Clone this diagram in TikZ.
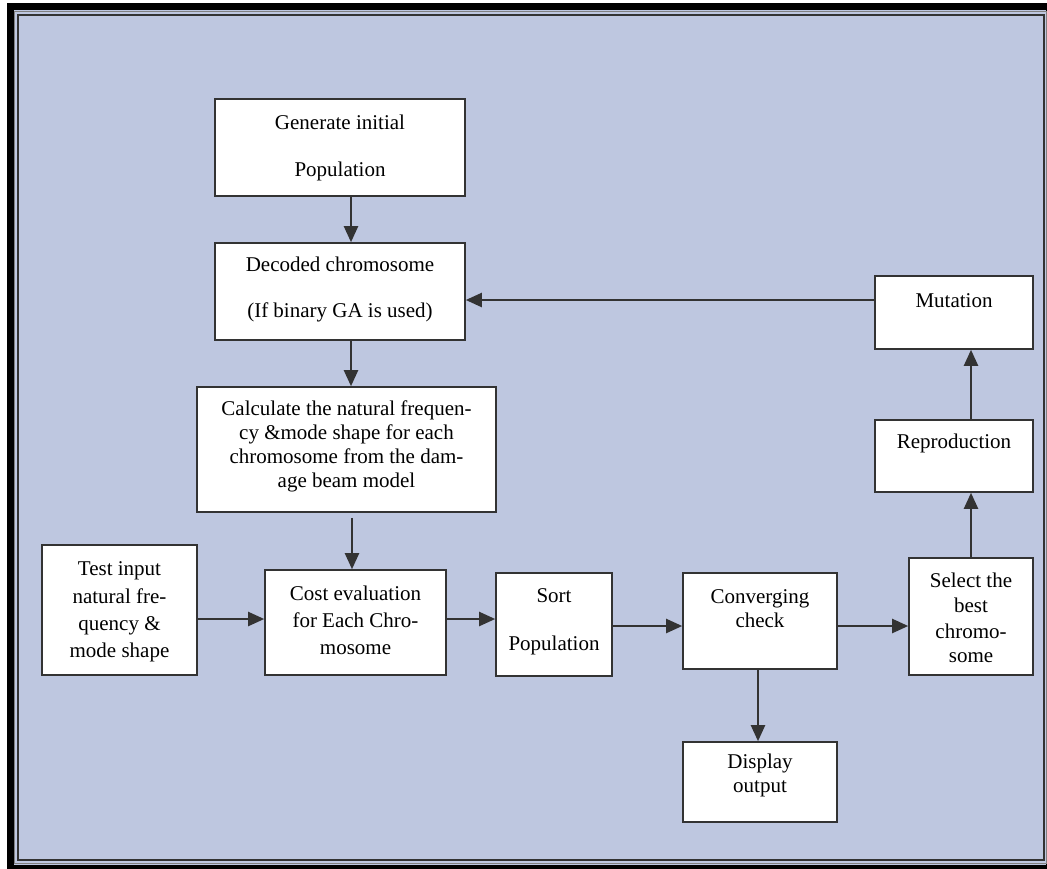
\documentclass[tikz,border=0pt]{standalone}
\usepackage{fontspec}
\setmainfont{Liberation Serif}
\usetikzlibrary{arrows.meta}
\definecolor{bgblue}{HTML}{BEC7E0}
\definecolor{linegray}{HTML}{333333}
\begin{document}
\begin{tikzpicture}[x=1pt,y=-1pt,
  box/.style={draw=linegray,line width=1.6pt,fill=white,inner sep=0pt,minimum width=#1},
  txt/.style={inner sep=0pt,align=center,font=\fontsize{21}{24}\selectfont},
  arr/.style={draw=linegray,line width=2.2pt,-{Triangle[length=16pt,width=14pt]}}]
\useasboundingbox (0,0) rectangle (1047,868);
\fill[white] (0,0) rectangle (1047,868);
\fill[bgblue] (13,10) rectangle (1047,865);
\draw[black,line width=7pt] (10.5,6.5) rectangle (1049.5,868.5);
\draw[gray,line width=1pt] (14.5,11.5) rectangle (1046,863);
\draw[linegray,line width=1.6pt] (18,15) rectangle (1044,860);
% boxes
\node[box=250pt,minimum height=97pt] (gen) at (340,147.5) {};
\node[box=250pt,minimum height=97pt] (dec) at (340,291.5) {};
\node[box=299pt,minimum height=125pt] (calc) at (346.5,449.5) {};
\node[box=155pt,minimum height=130pt] (test) at (119.5,610) {};
\node[box=181pt,minimum height=105pt] (cost) at (355.5,622.5) {};
\node[box=116pt,minimum height=103pt] (sort) at (554,624.5) {};
\node[box=154pt,minimum height=96pt] (conv) at (760,621) {};
\node[box=124pt,minimum height=117pt] (sel) at (971,616.5) {};
\node[box=154pt,minimum height=80pt] (disp) at (760,782) {};
\node[box=158pt,minimum height=72pt] (rep) at (954,456) {};
\node[box=158pt,minimum height=73pt] (mut) at (954,312.5) {};
% texts
\node[txt] (genT) at (340,147.5) {Generate initial\\[23pt]Population};
\node[txt] (decT) at (340,289) {Decoded chromosome\\[22pt](If binary GA is used)};
\node[txt] (calcT) at (346.5,446.5) {Calculate the natural frequen-\\cy \&mode shape for each\\chromosome from the dam-\\age beam model};
\node[txt] (costT) at (355.5,620) {Cost evaluation\\[3pt]for Each Chro-\\[3pt]mosome};
\node[txt] (testT) at (119.5,611.5) {Test input\\[4pt]natural fre-\\[3pt]quency \&\\[3pt]mode shape};
\node[txt] (sortT) at (554,622) {Sort\\[24pt]Population};
\node[txt] (convT) at (760,609) {Converging\\check};
\node[txt] (selT) at (971,618) {Select the\\[1pt]best\\[2pt]chromo-\\some};
\node[txt] (dispT) at (760,775.5) {Display\\output};
\node[txt] (repT) at (954,443) {Reproduction};
\node[txt] (mutT) at (954,300.5) {Mutation};
% helper coordinates
\coordinate (x351) at (351,0);
\coordinate (x352) at (352,0);
\coordinate (x758) at (758,0);
\coordinate (x971) at (971,0);
\coordinate (y619) at (0,619);
\coordinate (y626) at (0,626);
\coordinate (y300) at (0,300);
% connectors
\draw[arr] (gen.south -| x351) -- (dec.north -| x351);
\draw[arr] (dec.south -| x351) -- (calc.north -| x351);
\draw[arr,shorten <=5pt] (calc.south -| x352) -- (cost.north -| x352);
\draw[arr] (test.east |- y619) -- (cost.west |- y619);
\draw[arr] (cost.east |- y619) -- (sort.west |- y619);
\draw[arr] (sort.east |- y626) -- (conv.west |- y626);
\draw[arr] (conv.east |- y626) -- (sel.west |- y626);
\draw[arr] (conv.south -| x758) -- (disp.north -| x758);
\draw[arr] (sel.north -| x971) -- (rep.south -| x971);
\draw[arr] (rep.north -| x971) -- (mut.south -| x971);
\draw[arr] (mut.west |- y300) -- (dec.east |- y300);
\end{tikzpicture}
\end{document}
